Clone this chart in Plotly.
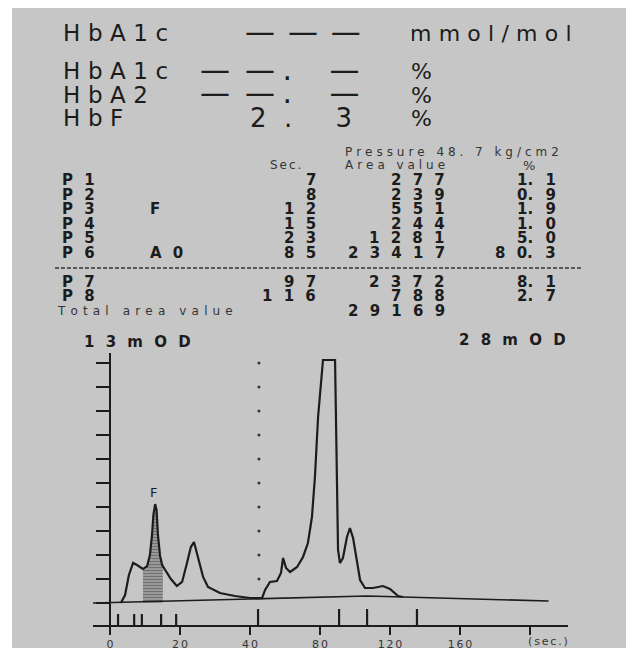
import plotly.graph_objects as go

# ---------------- data ----------------
header_labels = ["HbA1c", "HbA1c", "HbA2", "HbF"]
header_units = ["mmol/mol", "%", "%", "%"]
pressure_text = "Pressure 48. 7 kg/cm2"
col_headers = ["Sec.", "Area value", "%"]

peak_names = ["P1", "P2", "P3", "P4", "P5", "P6", "P7", "P8"]
peak_tags = ["", "", "F", "", "", "A0", "", ""]
peak_sec = [7, 8, 12, 15, 23, 85, 97, 116]
peak_area = [277, 239, 551, 244, 1281, 23417, 2372, 788]
peak_pct = [1.1, 0.9, 1.9, 1.0, 5.0, 80.3, 8.1, 2.7]
total_area = 29169

left_full_scale = 13    # mOD, 0-40 s section
right_full_scale = 28   # mOD, section after 40 s

# chromatogram, 0-40 s (13 mOD scale)
left_sec = [3.1, 4.3, 5.4, 6.6, 7.7, 9.4, 10.6, 11.4, 12.0, 12.4, 12.9, 13.3, 13.7,
            14.3, 14.9, 15.1, 16.0, 17.4, 19.1, 20.6, 22.0, 23.1, 24.0, 25.1, 26.6,
            28.0, 31.4, 35.7, 40.0]
left_mod = [0.00, 0.43, 1.52, 2.17, 2.06, 1.84, 2.00, 2.60, 3.68, 4.77, 5.36, 5.04, 3.68,
            2.55, 2.06, 2.00, 1.79, 1.30, 0.92, 1.14, 2.17, 3.03, 3.30, 2.49, 1.41,
            0.87, 0.54, 0.38, 0.27]
# chromatogram, after 40 s (28 mOD scale, top clipped)
right_sec = [40.0, 46.9, 48.6, 51.4, 55.4, 57.7, 58.9, 60.6, 62.9, 66.9, 70.3, 73.1, 75.4,
             77.1, 78.9, 80.6, 81.7, 88.6, 89.1, 89.7, 90.3, 91.4, 93.1, 95.4, 97.1, 98.9,
             101.1, 102.9, 105.7, 110.3, 116.0, 120.0, 124.6, 127.4]
right_mod = [0.58, 0.58, 1.52, 2.45, 2.57, 3.50, 5.25, 4.08, 3.62, 4.20, 5.37, 7.00, 10.03,
             14.70, 21.70, 26.37, 28.35, 28.35, 21.70, 12.60, 6.18, 4.67, 5.25, 7.70, 8.75, 7.58,
             4.67, 2.68, 1.75, 1.75, 1.98, 1.63, 0.82, 0.70]

base_left_sec = [-4.86, 40.0]
base_left_mod = [0.0, 0.22]
base_right_sec = [40.0, 107.0, 210.6]
base_right_mod = [0.47, 0.82, 0.23]

mark_left_sec = [2.3, 6.9, 9.1, 14.6, 18.9]
mark_right_sec = [44.6, 90.9, 106.9, 135.4]
f_start_sec, f_end_sec = 9.4, 15.1
switch_sec = 45.1
left_ticks_mod = [0, 1.3, 2.6, 3.9, 5.2, 6.5, 7.8, 9.1, 10.4, 11.7, 13.0]
right_dots_mod = [2.8, 5.6, 8.4, 11.2, 14.0, 16.8, 19.6, 22.4, 25.2, 28.0]
x_left_ticks = [0, 20, 40]
x_left_labels = ["0", "20", "40"]
x_right_ticks = [80, 120, 160, 200]
x_right_labels = ["80", "120", "160", ""]

# ---------------- layout geometry (pixels) ----------------
W, H = 636, 652
PX0, PX1, PY0, PY1 = 93, 568, 353, 625
BASE_PX = 603            # zero level
FS_PX = 240              # pixels for full scale
split = (250 - PX0) / (PX1 - PX0)
INK = "#1c1c1c"
SOFT = "#353535"
FONT = "DejaVu Sans"

lpp = left_full_scale / FS_PX
rpp = right_full_scale / FS_PX
left_yr = [-(PY1 - BASE_PX) * lpp, (BASE_PX - PY0) * lpp]
right_yr = [-(PY1 - BASE_PX) * rpp, (BASE_PX - PY0) * rpp]

SP = [("\u2003", 1.0), ("\u2002", 0.5), ("\u2004", 1 / 3), ("\u2005", 0.25),
      ("\u2006", 1 / 6), ("\u200a", 0.1)]


def gap(em):
    out, rem = "", em
    for ch, w in SP:
        while rem >= w - 0.02:
            out += ch
            rem -= w
    return out


def spread(s, em):
    return gap(em).join(s)


def px(x, y):
    return (x - PX0) / (PX1 - PX0), (PY1 - y) / (PY1 - PY0)


annotations = []


def ann(text, x, y, size, xanchor="left", color=INK, bold=False):
    ax, ay = px(x, y)
    t = "<b>" + text + "</b>" if bold else text
    annotations.append(dict(text=t, x=ax, y=ay, xref="paper", yref="paper",
                            xanchor=xanchor, yanchor="middle", showarrow=False,
                            font=dict(size=size, color=color, family=FONT)))


# header block
head_y = [33, 71, 95, 118]
for lab, yy in zip(header_labels, head_y):
    ann(spread(lab, 0.33), 61, yy, 23)
ann(spread(header_units[0], 0.36), 408, head_y[0], 22)
for u, yy in zip(header_units[1:], head_y[1:]):
    ann(u, 409, yy, 22)
dash3 = "—" + gap(0.43) + "—" + gap(0.43) + "—"
ann(dash3, 243, 31, 30)
dash_dot = "—" + gap(0.5) + "—" + gap(0.24) + "." + gap(1.27) + "—"
ann(dash_dot, 198, 69, 30)
ann(dash_dot, 198, 92, 30)
hbf_value = "2" + gap(0.67) + "." + gap(1.68) + "3"
ann(hbf_value, 248, 118, 26)

ann(spread(pressure_text, 0.36), 343, 152, 12, color=SOFT)
ann(spread(col_headers[0], 0.18), 268, 165, 12, color=SOFT)
ann(spread(col_headers[1], 0.41), 343, 165, 12, color=SOFT)
ann(col_headers[2], 529, 165, 13, xanchor="center", color=SOFT)

row_y = [180, 194.5, 209, 223.5, 238, 252.5, 281.5, 296]
BG = 0.74


def pct_text(p):
    a, b = f"{p:.1f}".split(".")
    return spread(a, BG) + "." + gap(0.9) + b


for name, tag, s, a, p, yy in zip(peak_names, peak_tags, peak_sec, peak_area, peak_pct, row_y):
    ann(spread(name, BG), 60, yy, 15, bold=True)
    if tag:
        ann(spread(tag, BG), 148, yy, 15, bold=True)
    ann(spread(str(s), BG), 318, yy, 15, xanchor="right", bold=True)
    ann(spread(str(a), BG), 447, yy, 15, xanchor="right", bold=True)
    ann(pct_text(p), 558, yy, 15, xanchor="right", bold=True)
ann(spread("Total area value", 0.44), 55, 311, 12, color=SOFT)
ann(spread(str(total_area), BG), 447, 311, 15, xanchor="right", bold=True)
ann(spread(f"{left_full_scale}mOD", BG), 82, 342, 15, bold=True)
ann(spread(f"{right_full_scale}mOD", BG), 457, 340, 15, bold=True)
ann(spread("(sec.)", 0.2), 526, 641, 11, color=SOFT)


# ---------------- traces ----------------
def segs(xs, y0, y1):
    X, Y = [], []
    for v in xs:
        X += [v, v, None]
        Y += [y0, y1, None]
    return X, Y


fig = go.Figure()
line = dict(color=INK, width=2.2)

fsel = [(t, v) for t, v in zip(left_sec, left_mod) if f_start_sec <= t <= f_end_sec]
fig.add_trace(go.Scatter(x=[t for t, _ in fsel], y=[v for _, v in fsel], mode="lines",
                         fill="tozeroy", line=dict(width=0, color=INK),
                         fillcolor="rgba(0,0,0,0)",
                         fillpattern=dict(shape="-", size=3, solidity=0.7,
                                          fgcolor=INK, bgcolor="rgba(0,0,0,0)"),
                         xaxis="x", yaxis="y", hoverinfo="skip"))
fig.add_trace(go.Scatter(x=base_left_sec, y=base_left_mod, mode="lines",
                         line=dict(color=INK, width=1.6), xaxis="x", yaxis="y"))
fig.add_trace(go.Scatter(x=base_right_sec, y=base_right_mod, mode="lines",
                         line=dict(color=INK, width=1.6), xaxis="x2", yaxis="y2"))
fig.add_trace(go.Scatter(x=left_sec, y=left_mod, mode="lines", line=line,
                         xaxis="x", yaxis="y"))
fig.add_trace(go.Scatter(x=right_sec, y=right_mod, mode="lines", line=line,
                         xaxis="x2", yaxis="y2"))
mx, my = segs(mark_left_sec, left_yr[0], -11 * lpp)
fig.add_trace(go.Scatter(x=mx, y=my, mode="lines", line=line, xaxis="x", yaxis="y"))
mx, my = segs(mark_right_sec, right_yr[0], -6 * rpp)
fig.add_trace(go.Scatter(x=mx, y=my, mode="lines", line=line, xaxis="x2", yaxis="y2"))
fig.add_trace(go.Scatter(x=[switch_sec] * len(right_dots_mod), y=right_dots_mod,
                         mode="markers", marker=dict(size=3, color=SOFT),
                         xaxis="x2", yaxis="y2"))

annotations.append(dict(text="F", x=12.4, y=6.0, xref="x", yref="y", showarrow=False,
                        font=dict(size=13, color=INK, family=FONT)))

axis_common = dict(showgrid=False, zeroline=False, showline=True, linecolor=INK,
                   linewidth=1.8, ticks="outside", tickcolor=INK, tickwidth=1.8,
                   automargin=False)
tickfont = dict(size=11, color=SOFT, family=FONT)
fig.update_layout(
    width=W, height=H, autosize=False, showlegend=False,
    margin=dict(l=PX0, r=W - PX1, t=PY0, b=H - PY1, pad=0, autoexpand=False),
    paper_bgcolor="white", plot_bgcolor="rgba(0,0,0,0)",
    xaxis=dict(domain=[0, split], range=[-4.86, 40], anchor="y",
               tickvals=x_left_ticks, ticktext=[spread(s, 0.2) for s in x_left_labels],
               ticklen=8, tickfont=tickfont, **axis_common),
    xaxis2=dict(domain=[split, 1], range=[40, 221.7], anchor="y2",
                tickvals=x_right_ticks, ticktext=[spread(s, 0.2) for s in x_right_labels],
                ticklen=8, tickfont=tickfont, **axis_common),
    yaxis=dict(domain=[0, 1], range=left_yr, anchor="free",
               position=(110 - PX0) / (PX1 - PX0), tickvals=left_ticks_mod,
               showticklabels=False, ticklen=13, **axis_common),
    yaxis2=dict(domain=[0, 1], range=right_yr, anchor="x2", visible=False),
    annotations=annotations,
    shapes=[
        dict(type="rect", xref="paper", yref="paper", layer="below",
             x0=px(12, 0)[0], x1=px(626, 0)[0], y0=px(0, 648)[1], y1=px(0, 8)[1],
             fillcolor="#c6c6c6", line=dict(width=0)),
        dict(type="line", xref="paper", yref="paper",
             x0=px(55, 0)[0], x1=px(583, 0)[0], y0=px(0, 268)[1], y1=px(0, 268)[1],
             line=dict(color=SOFT, width=1.3, dash="4px,2px")),
    ],
)

fig.write_html("out.html", config={"displayModeBar": False},
               post_script="document.body.style.margin='0';document.body.style.overflow='hidden';")
